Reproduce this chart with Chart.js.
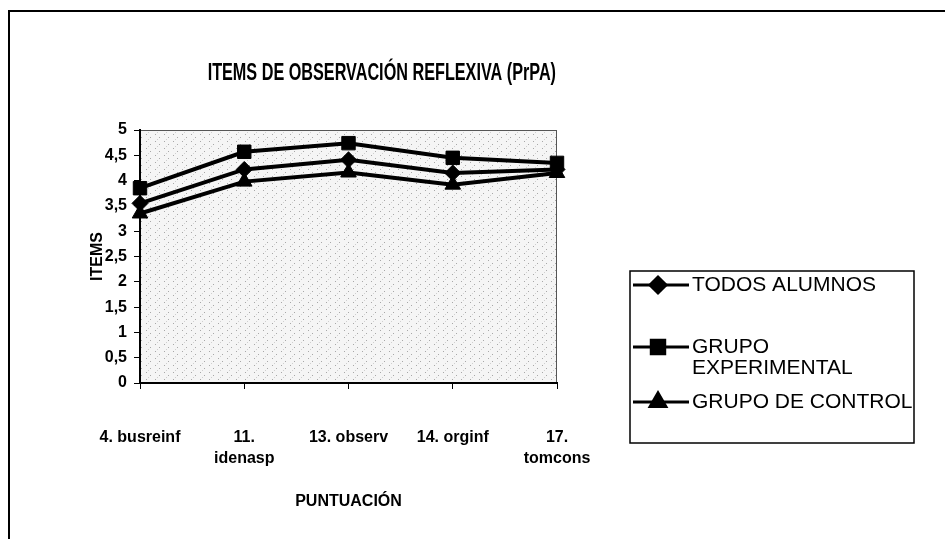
<!DOCTYPE html>
<html>
<head>
<meta charset="utf-8">
<script src="https://cdn.jsdelivr.net/npm/chart.js@4.4.0/dist/chart.umd.min.js"></script>
<style>
    body{ margin: 0; background: #fff; }
    #wrap{ position: relative; width: 945px; height: 539px; }
</style>
</head>
<body>
<div id="wrap"><canvas id="chart" width="945" height="539"></canvas></div>
<script>
const categories = [['4. busreinf'], ['11.', 'idenasp'], ['13. observ'], ['14. orginf'], ['17.', 'tomcons']];
const todosAlumnos = [3.55, 4.22, 4.41, 4.15, 4.22];
const grupoExperimental = [3.85, 4.57, 4.74, 4.45, 4.35];
const grupoControl = [3.35, 3.98, 4.16, 3.92, 4.15];
const seriesNames = ['TODOS ALUMNOS', ['GRUPO', 'EXPERIMENTAL'], 'GRUPO DE CONTROL'];
const chartTitle = 'ITEMS DE OBSERVACIÓN REFLEXIVA (PrPA)';

const font = "Arial, 'Liberation Sans', sans-serif";

function dotPattern(ctx){
    const c = document.createElement('canvas');
    c.width = 9;
    c.height = 7;
    const p = c.getContext('2d');
    p.fillStyle = '#f5f5f5';
    p.fillRect(0, 0, 9, 7);
    p.fillStyle = '#a8a8a8';
    p.fillRect(2, 1, 1, 1);
    p.fillRect(6, 4, 1, 1);
    p.fillStyle = '#d0d0d0';
    p.fillRect(4, 6, 1, 1);
    return ctx.createPattern(c, 'repeat');
}

// frame + plot background
const backdrop = {
    id: 'backdrop',
    beforeDraw(chart){
        const ctx = chart.ctx;
        const a = chart.chartArea;
        ctx.save();
        ctx.fillStyle = '#fff';
        ctx.fillRect(0, 0, chart.width, chart.height);
        ctx.fillStyle = dotPattern(ctx);
        ctx.fillRect(a.left, a.top, a.right - a.left, a.bottom - a.top);
        ctx.strokeStyle = '#555';
        ctx.lineWidth = 1;
        ctx.strokeRect(a.left + 0.5, a.top + 0.5, a.right - a.left - 1, a.bottom - a.top);
        ctx.strokeStyle = '#000';
        ctx.lineWidth = 2;
        ctx.beginPath();
        ctx.moveTo(9, chart.height);
        ctx.lineTo(9, 11);
        ctx.lineTo(chart.width, 11);
        ctx.stroke();
        ctx.restore();
    }
};

// condensed bold title (no narrow font installed, so squeeze it)
const narrowTitle = {
    id: 'narrowTitle',
    afterDraw(chart){
        const ctx = chart.ctx;
        ctx.save();
        ctx.font = 'bold 23px ' + font;
        ctx.fillStyle = '#000';
        ctx.textBaseline = 'middle';
        ctx.textAlign = 'right';
        ctx.translate(556, 74);
        ctx.scale(0.705, 1);
        ctx.fillText(chartTitle, 0, 0);
        ctx.restore();
    }
};

// legend in a box to the right, like the original
const boxLegend = {
    id: 'boxLegend',
    afterDraw(chart){
        const ctx = chart.ctx;
        ctx.save();
        ctx.strokeStyle = '#000';
        ctx.lineWidth = 1.5;
        ctx.strokeRect(630, 271, 284, 172);
        const rows = [285, 347, 402];
        ctx.font = '21px ' + font;
        ctx.textBaseline = 'middle';
        ctx.fillStyle = '#000';
        chart.data.datasets.forEach((ds, i) => {
            const y = rows[i];
            ctx.lineWidth = 3;
            ctx.beginPath();
            ctx.moveTo(633, y);
            ctx.lineTo(689, y);
            ctx.stroke();
            Chart.helpers.drawPoint(ctx, {pointStyle: ds.pointStyle, radius: ds.pointRadius, borderWidth: 1}, 658, y);
            ctx.fill();
            const label = seriesNames[i];
            if(Array.isArray(label)){
                label.forEach((t, k) => ctx.fillText(t, 692, y + k * 21));
            } else {
                ctx.fillText(label, 692, y);
            }
        });
        ctx.restore();
    }
};

function line(label, data, style, radius){
    return {
        label: label,
        data: data,
        borderColor: '#000',
        backgroundColor: '#000',
        borderWidth: 4,
        pointStyle: style,
        pointRadius: radius,
        pointBorderWidth: 1,
        tension: 0
    };
}

new Chart('chart', {
    type: 'line',
    data: {
        labels: categories,
        datasets: [
            line('TODOS ALUMNOS', todosAlumnos, 'rectRot', 8),
            line('GRUPO EXPERIMENTAL', grupoExperimental, 'rect', 9.5),
            line('GRUPO DE CONTROL', grupoControl, 'triangle', 9)
        ]
    },
    options: {
        responsive: false,
        animation: false,
        layout: { padding: { left: 80, right: 388, top: 130, bottom: 0 } },
        plugins: {
            legend: { display: false },
            tooltip: { enabled: false },
            title: { display: false }
        },
        scales: {
            x: {
                offset: false,
                border: { color: '#000', width: 2 },
                grid: { display: true, drawOnChartArea: false, color: '#000', tickLength: 6 },
                ticks: {
                    color: '#000',
                    autoSkip: false,
                    maxRotation: 0,
                    padding: 38,
                    font: { family: font, size: 16, weight: 'bold', lineHeight: 1.3 }
                },
                title: {
                    display: true,
                    text: 'PUNTUACIÓN',
                    color: '#000',
                    font: { family: font, size: 16, weight: 'bold' },
                    padding: { top: 0, bottom: 28 }
                },
                afterFit(s){ s.height = 156; }
            },
            y: {
                min: 0,
                max: 5,
                border: { color: '#000', width: 2 },
                grid: { display: true, drawOnChartArea: false, color: '#000', tickLength: 6 },
                ticks: {
                    stepSize: 0.5,
                    color: '#000',
                    padding: 7,
                    font: { family: font, size: 16, weight: 'bold' },
                    callback: v => String(v).replace('.', ',')
                },
                title: {
                    display: true,
                    text: 'ITEMS',
                    color: '#000',
                    font: { family: font, size: 16, weight: 'bold' },
                    padding: { top: 8, bottom: 0 }
                },
                afterFit(s){ s.width = 60; }
            }
        }
    },
    plugins: [backdrop, narrowTitle, boxLegend]
});
</script>
</body>
</html>
